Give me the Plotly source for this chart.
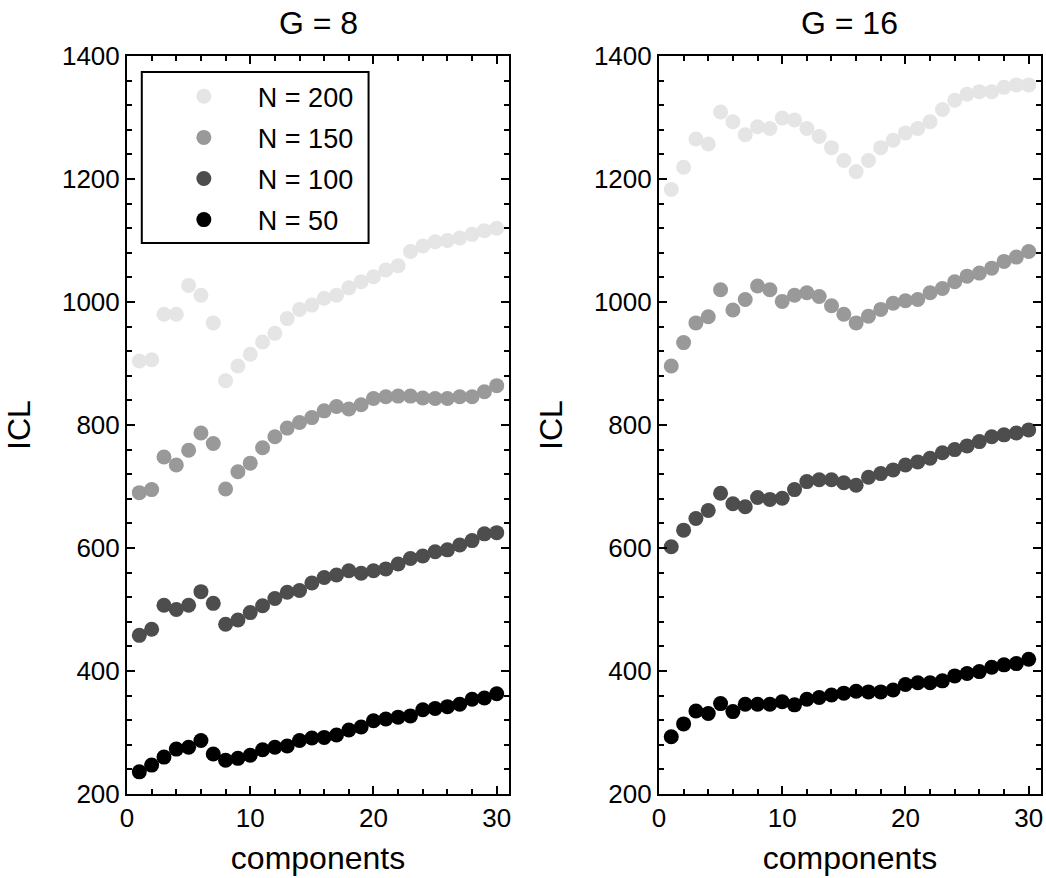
import plotly.graph_objects as go
from plotly.subplots import make_subplots

components = list(range(1, 31))

# G = 8 panel
g8_n200 = [904, 906, 980, 980, 1027, 1011, 966, 872, 896, 915, 935, 949, 973, 988, 995,
           1006, 1011, 1023, 1033, 1041, 1052, 1059, 1082, 1091, 1098, 1100, 1104, 1110, 1116, 1120]
g8_n150 = [690, 695, 748, 735, 759, 787, 770, 696, 724, 738, 763, 781, 795, 804, 812,
           823, 830, 826, 833, 843, 846, 847, 847, 844, 843, 843, 846, 846, 854, 864]
g8_n100 = [458, 468, 507, 500, 507, 529, 510, 476, 483, 495, 506, 518, 528, 531, 543,
           552, 556, 563, 559, 563, 566, 574, 583, 587, 594, 597, 605, 612, 623, 625]
g8_n50 = [236, 247, 260, 273, 276, 287, 265, 255, 258, 263, 272, 276, 278, 287, 291,
          292, 296, 304, 309, 319, 322, 325, 327, 337, 339, 342, 346, 354, 356, 363]

# G = 16 panel
g16_n200 = [1183, 1219, 1265, 1257, 1309, 1293, 1272, 1285, 1282, 1299, 1296, 1282, 1269, 1251, 1230,
            1212, 1230, 1251, 1263, 1275, 1282, 1293, 1313, 1328, 1338, 1342, 1342, 1349, 1353, 1353]
g16_n150 = [896, 934, 966, 976, 1020, 987, 1004, 1026, 1020, 1001, 1011, 1015, 1009, 994, 980,
            966, 977, 988, 998, 1002, 1004, 1015, 1022, 1033, 1042, 1047, 1055, 1066, 1073, 1082]
g16_n100 = [602, 629, 648, 661, 689, 672, 667, 682, 679, 681, 695, 708, 711, 711, 706,
            702, 715, 721, 727, 735, 740, 746, 755, 760, 766, 773, 781, 784, 787, 792]
g16_n50 = [293, 314, 335, 331, 347, 334, 346, 346, 346, 350, 345, 354, 357, 361, 364,
           367, 366, 366, 369, 378, 381, 381, 384, 392, 396, 399, 406, 410, 412, 419]

series_names = ["N = 200", "N = 150", "N = 100", "N = 50"]
series_colors = ["#e5e5e5", "#999999", "#4d4d4d", "#000000"]
panel_titles = ["G = 8", "G = 16"]
panels = [[g8_n200, g8_n150, g8_n100, g8_n50], [g16_n200, g16_n150, g16_n100, g16_n50]]

FONT = "Liberation Sans, Arial, sans-serif"

fig = make_subplots(rows=1, cols=2, horizontal_spacing=0.164)

for p, data in enumerate(panels):
    for i, vals in enumerate(data):
        fig.add_trace(
            go.Scatter(
                x=components, y=vals, mode="markers", name=series_names[i],
                legendgroup=series_names[i], showlegend=(p == 0),
                marker=dict(size=15, color=series_colors[i], line=dict(width=0)),
            ),
            row=1, col=p + 1,
        )

axis_common = dict(
    showline=True, linecolor="black", linewidth=2, mirror="allticks",
    ticks="inside", ticklen=8, tickwidth=2, tickcolor="black",
    showgrid=False, zeroline=False,
    tickfont=dict(family=FONT, size=26, color="black"),
    title_font=dict(family=FONT, size=32, color="black"),
)

for c in (1, 2):
    fig.update_xaxes(
        range=[0, 31], tick0=0, dtick=10,
        minor=dict(ticks="inside", dtick=2, ticklen=5, tickwidth=1.5, tickcolor="black", showgrid=False),
        title_text="components", title_standoff=14,
        row=1, col=c, **axis_common,
    )
    fig.update_yaxes(
        range=[200, 1400], tick0=200, dtick=200,
        minor=dict(ticks="inside", dtick=40, ticklen=5, tickwidth=1.5, tickcolor="black", showgrid=False),
        title_text="ICL", title_standoff=22,
        row=1, col=c, **axis_common,
    )

fig.update_layout(
    width=1046, height=878,
    margin=dict(l=127, r=3, t=56, b=84),
    paper_bgcolor="white", plot_bgcolor="white",
    font=dict(family=FONT, color="black"),
    showlegend=True,
    legend=dict(
        x=0.025, y=0.978, xanchor="left", yanchor="top",
        bgcolor="rgba(0,0,0,0)", borderwidth=0,
        font=dict(family=FONT, size=27, color="black"),
        tracegroupgap=3, itemwidth=98,
    ),
)

# legend frame
fig.add_shape(type="rect", xref="x", yref="y", x0=1.2, x1=19.6, y0=1096, y1=1374,
              line=dict(color="black", width=2), fillcolor="rgba(0,0,0,0)", layer="above")

# panel titles
for c, t in enumerate(panel_titles):
    dom = fig.layout["xaxis" if c == 0 else "xaxis2"].domain
    fig.add_annotation(
        text=t, x=(dom[0] + dom[1]) / 2, y=1.045, xref="paper", yref="paper",
        xanchor="center", yanchor="middle", showarrow=False,
        font=dict(family=FONT, size=32, color="black"),
    )

fig.write_html("out.html")
